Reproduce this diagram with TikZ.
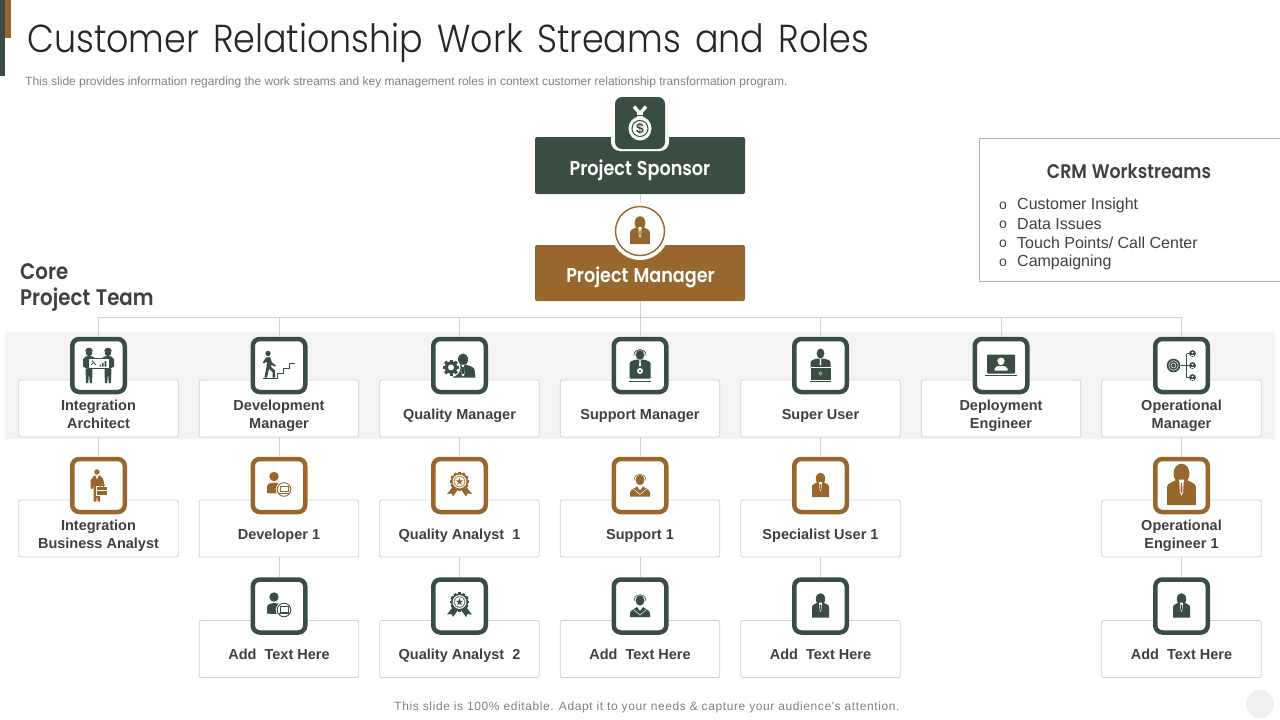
\documentclass[tikz,border=0pt]{standalone}
\usepackage{fontspec}
\setmainfont{Liberation Sans}
\newfontfamily\titlef{Poppins Light}[FakeStretch=0.895,WordSpace=1.5]
\newfontfamily\headf{Poppins SemiBold}[FakeStretch=0.88,WordSpace=1.2]
\newfontfamily\footf{Liberation Sans}[LetterSpace=5]
\definecolor{dkg}{HTML}{3A4D43}
\definecolor{brn}{HTML}{98672D}
\definecolor{txt}{HTML}{404040}
\definecolor{lin}{HTML}{D2D2D2}
\colorlet{ic}{dkg}
\tikzset{
 conn/.style={draw=lin,line width=0.9pt},
 rolebox/.style={draw=lin,fill=white,line width=0.9pt,rounded corners=2pt,minimum width=159.5pt,minimum height=57pt,inner sep=0pt},
 rolelabel/.style={font=\fontsize{14.5}{18}\selectfont\bfseries,text=txt,align=center,inner sep=0pt},
 iconframe/.style={fill=white,line width=4.5pt,rounded corners=7pt,minimum width=52.5pt,minimum height=53pt,inner sep=0pt},
 topbox/.style={rounded corners=2pt,minimum width=210pt,inner sep=0pt,text=white,font=\fontsize{20}{24}\selectfont\headf},
 crmtext/.style={anchor=west,inner sep=0pt,text=txt,font=\fontsize{16}{19}\selectfont},
 crmbullet/.style={anchor=west,inner sep=0pt,text=txt,font=\fontsize{14}{16}\selectfont},
 ic-suit/.pic={
  \fill[ic] (0,-7) ellipse (4.7 and 5.8);
  \fill[ic] (-8.5,11.5) -- (-8.5,1) .. controls (-8.5,-1.5) and (-5,-2) .. (-2.8,-3.4) -- (2.8,-3.4) .. controls (5,-2) and (8.5,-1.5) .. (8.5,1) -- (8.5,11.5) -- cycle;
  \fill[white] (-1.4,-3.4) -- (1.4,-3.4) -- (0.9,4) -- (0,6) -- (-0.9,4) -- cycle;
  \fill[ic] (-0.4,-1.5) -- (0.4,-1.5) -- (0.5,3.6) -- (0,4.6) -- (-0.5,3.6) -- cycle;
 },
 ic-head/.pic={
  \fill[ic] (0,-5.5) ellipse (4.4 and 5.2);
  \draw[ic,line width=0.6pt] (-6,-5) .. controls (-6.2,-13.5) and (6.2,-13.5) .. (6,-5);
  \fill[ic] (-10,11) -- (-10,7) .. controls (-9,3.5) and (-5,3) .. (-3,1) -- (0,5) -- (3,1) .. controls (5,3) and (9,3.5) .. (10,7) -- (10,11) -- cycle;
  \draw[white,line width=0.5pt] (-6.5,3.5) -- (0,9) -- (6.5,3.5);
 },
 ic-ribbon/.pic={
  \fill[ic] (-6.5,1) -- (-12.5,8.5) -- (-8,8) -- (-6.5,11) -- (-1.5,4) -- cycle;
  \fill[ic] (6.5,1) -- (12.5,8.5) -- (8,8) -- (6.5,11) -- (1.5,4) -- cycle;
  \foreach \a in {0,30,...,330} {\fill[ic,rotate around={\a:(0,-4)}] (-1.4,-13.6) rectangle (1.4,-4);}
  \fill[ic] (0,-4) circle (8.6);
  \fill[white] (0,-4) circle (6.9);
  \fill[ic,opacity=.75] (0,-4) circle (5.8);
  \fill[white] (0,-4) circle (4.9);
  \fill[ic,shift={(0,-4)}] (0,-3.9) -- (0.9,-1.25) -- (3.7,-1.2) -- (1.45,0.5) -- (2.3,3.2) -- (0,1.6) -- (-2.3,3.2) -- (-1.45,0.5) -- (-3.7,-1.2) -- (-0.9,-1.25) -- cycle;
 },
 ic-workers/.pic={
  \foreach \s in {-1,1} {
   \fill[ic] (\s*9.5,-12.5) circle (3.2);
   \fill[ic] (\s*5.5,-14.2) .. controls (\s*6,-19) and (\s*13,-19) .. (\s*13.5,-14.2) -- cycle;
   \fill[ic] (\s*15.5,1) -- (\s*15.5,-6) .. controls (\s*15,-9) and (\s*12,-9.5) .. (\s*9.5,-9.5) .. controls (\s*7,-9.5) and (\s*5,-9) .. (\s*3,-7) -- (\s*3,3) -- (\s*12,3) -- cycle;
   \fill[ic] (\s*13,3) -- (\s*12.4,17.5) -- (\s*10.2,17.5) -- (\s*9.6,8) -- (\s*8.6,17.5) -- (\s*6.4,17.5) -- (\s*6,3) -- cycle;
  }
  \draw[ic,fill=white,line width=0.9pt] (-10.5,-7) rectangle (10.5,2.5);
  \draw[ic,line width=0.8pt] (-6.5,-5) -- (-2.5,-0.5) (-7,-1) -- (-5.5,-2.5);
  \fill[ic] (1,-1) rectangle (2.6,1) (3.6,-2.5) rectangle (5.2,1) (6.2,-4.5) rectangle (7.8,1);
 },
 ic-stairs/.pic={
  \draw[ic,line width=1pt] (-16,13) -- (-2,13) -- (-2,8) -- (4,8) -- (4,3) -- (10,3) -- (10,-2) -- (16,-2);
  \fill[ic] (-11,-12) circle (2.7);
  \fill[ic] (-13,-8) -- (-9,-8.5) -- (-7,-3) -- (-3,0) -- (-4,1.2) -- (-8,-1) -- (-7.5,2) -- (-4,5) -- (-4,12) -- (-6.5,12) -- (-6.5,6.5) -- (-10,3.5) -- (-12,12) -- (-14.5,12) -- (-12.5,1) -- (-12,-4) -- (-15.5,-2) -- (-16,-3.5) -- cycle;
 },
 ic-qm/.pic={
  \fill[ic] (3.5,-6) ellipse (5 and 6);
  \fill[ic] (-7,12) -- (-4,3) .. controls (-3,1) and (-1,0) .. (1,-1) -- (6,-1) .. controls (9,0) and (14,1) .. (15,4) -- (16,12) -- cycle;
  \fill[white] (2,-1) -- (5,-1) -- (4.4,1) -- (5,9) -- (3.5,11) -- (2,9) -- (2.6,1) -- cycle;
  \fill[ic] (2.9,1.5) rectangle (4.1,8.5);
  \fill[white] (-8.5,2) circle (9.5);
  \foreach \a in {0,45,...,315} {\fill[ic,rotate around={\a:(-8.5,2)}] (-10,-6) rectangle (-7,10);}
  \fill[ic] (-8.5,2) circle (6.2);
  \fill[white] (-8.5,2) circle (3);
 },
 ic-support/.pic={
  \fill[ic] (0,-10.5) ellipse (4.4 and 4.8);
  \draw[ic,line width=0.7pt] (-6,-10) .. controls (-6.2,-18) and (6.2,-18) .. (6,-10);
  \fill[ic] (-10.5,13) -- (-10.5,-2) .. controls (-10,-5) and (-6,-5) .. (-3,-6) -- (3,-6) .. controls (6,-5) and (10,-5) .. (10.5,-2) -- (10.5,13) -- cycle;
  \fill[white] (-1.1,-6) -- (1.1,-6) -- (0.6,-4.5) -- (1,0) -- (0,1.3) -- (-1,0) -- (-0.6,-4.5) -- cycle;
  \fill[white] (0,5.5) circle (3);
  \fill[ic] (0,5.5) circle (1.2);
  \draw[ic,line width=0.9pt] (-11,16) -- (11,16);
 },
 ic-super/.pic={
  \fill[ic] (0,-12) ellipse (3.9 and 5);
  \fill[ic] (-10,3) -- (-10,-3) .. controls (-9.5,-6) and (-6,-6) .. (-3,-7) -- (3,-7) .. controls (6,-6) and (9.5,-6) .. (10,-3) -- (10,3) -- cycle;
  \fill[white] (-1,-7) -- (1,-7) -- (0.5,-5.5) -- (0.9,-1) -- (0,0) -- (-0.9,-1) -- (-0.5,-5.5) -- cycle;
  \fill[ic] (-10,2) rectangle (10,14);
  \draw[white,line width=0.5pt] (-10,1.8) -- (10,1.8);
  \draw[white,line width=0.4pt] (0,8) circle (1.6);
  \draw[ic,line width=0.9pt] (-10.5,16) -- (10.5,16);
 },
 ic-deploy/.pic={
  \fill[ic,rounded corners=0.8pt] (-14,-11) rectangle (14,8);
  \draw[ic,line width=1.6pt] (-16,10) -- (16,10);
  \fill[white] (0,-3.5) circle (3.2);
  \fill[white] (-4,-4.2) -- (4,-4.2) .. controls (3.5,-9) and (-3.5,-9) .. (-4,-4.2) -- cycle;
  \fill[white] (-6.5,5) -- (-6.5,3) .. controls (-6,0.5) and (-3,0.5) .. (0,0.5) .. controls (3,0.5) and (6,0.5) .. (6.5,3) -- (6.5,5) -- cycle;
 },
 ic-opm/.pic={
  \fill[ic] (-8,0) circle (6.8);
  \draw[white,line width=0.5pt] (-8,0) circle (4.8);
  \draw[white,line width=0.5pt] (-8,0) circle (2.4);
  \draw[ic,line width=0.7pt] (-1,0) -- (8,0) (5,-12) -- (5,12) (5,-12) -- (8,-12) (5,12) -- (8,12);
  \foreach \y in {-12,0,12} {
   \fill[ic] (11,\y) circle (3.4);
   \fill[white] (11,\y-0.8) circle (1);
   \draw[white,line width=0.4pt] (9.3,\y+1.8) -- (12.7,\y+1.8);
  }
 },
 ic-analyst/.pic={
  \fill[ic] (-1.5,-13.5) circle (2.7);
  \fill[ic] (-4.5,-9.8) -- (1.5,-9.8) -- (4.5,-7) -- (6.5,1.5) -- (4,1.5) -- (2.5,-3) -- (2.5,1.5) -- (-1.5,1.5) -- (-1.5,9) -- (1.5,9) -- (1.5,16) -- (-0.8,16) -- (-1.5,9.5) -- (-2.2,16) -- (-5,16) -- (-5,0) -- (-6,3.5) -- (-8,3) -- (-8,-5) -- cycle;
  \fill[white] (-3,-9.8) -- (0,-9.8) -- (-1.5,-6) -- cycle;
  \draw[white,fill=ic,line width=0.6pt] (-2.2,1.2) rectangle (9,9.5);
  \draw[ic,line width=0.7pt] (1.5,1) -- (1.5,-0.4) -- (5,-0.4) -- (5,1);
  \draw[white,line width=0.4pt] (-2,4.5) -- (9,4.5);
 },
 ic-dev/.pic={
  \fill[ic] (-5,-9) circle (4.7);
  \fill[ic] (-12,7.5) -- (-12,1.5) .. controls (-12,-2) and (-8,-3) .. (-5,-3) .. controls (-2,-3) and (2,-2) .. (3,0) -- (3,7.5) .. controls (-2,8) and (-8,8) .. (-12,7.5) -- cycle;
  \fill[white] (5,4) circle (8.2);
  \draw[ic,line width=0.9pt] (5,4) circle (6.8);
  \draw[ic,line width=0.9pt] (1,0.8) rectangle (9,6.2);
  \draw[ic,line width=0.9pt] (0,7.8) -- (10,7.8);
 },
}
\newcommand{\role}[7]{%
 \node[rolebox] (#1) at (#2,#3) {};
 \pgfmathsetmacro\rLy{#3+7.2}
 \pgfmathsetmacro\rIy{#3-43}
 \node[rolelabel] (#1-t) at (#2,\rLy) {\strut #4\strut};
 \node[iconframe,draw=#6] (#1-i) at (#2,\rIy) {};
 \begin{scope}
  \colorlet{ic}{#6}
  \pic[scale=#7] at (#2,\rIy) {#5};
 \end{scope}
}
\begin{document}
\begin{tikzpicture}[x=1pt,y=-1pt]
\useasboundingbox (0,0) rectangle (1280,720);
% accents
\fill[dkg] (0,0) rectangle (5,76);
\fill[brn] (5,0) rectangle (11,38);
% heading
\node[anchor=west,inner sep=0pt,text=black!85,font=\fontsize{39}{42}\selectfont\titlef] (title) at (27,43) {Customer Relationship Work Streams and Roles};
\node[anchor=west,inner sep=0pt,text=black!50,font=\fontsize{12}{14}\selectfont] (sub) at (25,82.3) {This slide provides information regarding the work streams and key management roles in context customer relationship transformation program.};
% band
\fill[black!4.5] (5,332) rectangle (1275,439);
% top boxes
\node[topbox,fill=dkg,minimum height=57pt] (ps) at (640,165.5) {};
\node[inner sep=0pt,text=white,font=\fontsize{20}{24}\selectfont\headf] (pst) at (640,170) {Project Sponsor};
\node[topbox,fill=brn,minimum height=56pt] (pm) at (640,273) {};
\node[inner sep=0pt,text=white,font=\fontsize{20}{24}\selectfont\headf] (pmt) at (640.5,277) {Project Manager};
\coordinate (hub) at (640,317.8);
% sponsor icon
\node[fill=white,rounded corners=9pt,minimum width=58pt,minimum height=56pt,inner sep=0pt] (psrim) at (640,123) {};
\node[fill=dkg,rounded corners=7pt,minimum width=50pt,minimum height=52pt,inner sep=0pt] (psic) at (640,123) {};
\fill[white] (640,128.5) ellipse (11.5 and 12);
\draw[white,line width=3.4pt] (634,106.5) -- (640,113.5) -- (646,106.5);
\fill[white] (637,112) rectangle (643,118);
\draw[dkg,line width=1pt] (640,128.5) circle (8);
\draw[dkg,line width=0.8pt] (634.5,115.5) -- (645.5,115.5);
\node[inner sep=0pt,text=dkg,font=\fontsize{14}{14}\selectfont\bfseries] (dollar) at (640,128.5) {\$};
% manager icon
\node[circle,fill=white,minimum size=58pt,inner sep=0pt] (pmrim) at (640,231) {};
\node[circle,draw=brn,fill=white,line width=1.4pt,minimum size=49pt,inner sep=0pt] (pmic) at (640,231) {};
\begin{scope}\colorlet{ic}{brn}\pic[scale=1.15] at (640,231) {ic-suit};\end{scope}
\draw[conn] (ps.south) -- (pmrim.north);
% core label
\node[anchor=west,inner sep=0pt,text=txt,font=\fontsize{22.5}{26}\selectfont\headf,align=left] (core) at (20,288) {Core\\Project Team};
% CRM box
\draw[draw=black!30,line width=0.9pt] (1281,138.5) -- (979.5,138.5) -- (979.5,281.5) -- (1281,281.5);
\node[inner sep=0pt,text=txt,font=\fontsize{19.7}{22}\selectfont\headf] (crm) at (1129,171) {CRM Workstreams};
\node[crmbullet] (ba) at (999,205.5) {o};
\node[crmbullet] (bb) at (999,224.5) {o};
\node[crmbullet] (bc) at (999,243.5) {o};
\node[crmbullet] (bd) at (999,262.5) {o};
\node[crmtext] (ta) at (1017,205) {Customer Insight};
\node[crmtext] (tb) at (1017,224) {Data Issues};
\node[crmtext] (tc) at (1017,243) {Touch Points/ Call Center};
\node[crmtext] (td) at (1017,262) {Campaigning};
% roles
\role{a1}{98.5}{408.5}{Integration\\Architect}{ic-workers}{dkg}{1}
\role{b1}{279}{408.5}{Development\\Manager}{ic-stairs}{dkg}{1}
\role{c1}{459.5}{408.5}{Quality Manager}{ic-qm}{dkg}{1}
\role{d1}{640}{408.5}{Support Manager}{ic-support}{dkg}{1}
\role{e1}{820.5}{408.5}{Super User}{ic-super}{dkg}{1}
\role{f1}{1001}{408.5}{Deployment\\Engineer}{ic-deploy}{dkg}{1}
\role{g1}{1181.5}{408.5}{Operational\\Manager}{ic-opm}{dkg}{1}
\role{a2}{98.5}{528.5}{Integration\\Business Analyst}{ic-analyst}{brn}{1}
\role{b2}{279}{528.5}{Developer 1}{ic-dev}{brn}{1}
\role{c2}{459.5}{528.5}{Quality Analyst\ \ 1}{ic-ribbon}{brn}{1}
\role{d2}{640}{528.5}{Support 1}{ic-head}{brn}{1}
\role{e2}{820.5}{528.5}{Specialist User 1}{ic-suit}{brn}{1}
\role{g2}{1181.5}{528.5}{Operational\\Engineer 1}{ic-suit}{brn}{1.7}
\role{b3}{279}{649}{Add\ \ Text Here}{ic-dev}{dkg}{1}
\role{c3}{459.5}{649}{Quality Analyst\ \ 2}{ic-ribbon}{dkg}{1}
\role{d3}{640}{649}{Add\ \ Text Here}{ic-head}{dkg}{1}
\role{e3}{820.5}{649}{Add\ \ Text Here}{ic-suit}{dkg}{1}
\role{g3}{1181.5}{649}{Add\ \ Text Here}{ic-suit}{dkg}{1}
% connectors
\draw[conn] (pm.south) -- (hub);
\foreach \n in {a,b,c,d,e,f,g} {\draw[conn] (hub) -| (\n1-i.north);}
\foreach \n in {a,b,c,d,e,g} {\draw[conn] (\n1.south) -- (\n2-i.north);}
\foreach \n in {b,c,d,e,g} {\draw[conn] (\n2.south) -- (\n3-i.north);}
% footer
\node[inner sep=0pt,text=black!50,font=\fontsize{12}{14}\selectfont\footf] (foot) at (647,707.3) {This slide is 100\% editable. Adapt it to your needs \& capture your audience's attention.};
\fill[black!6] (1260,704) circle (14);
\end{tikzpicture}
\end{document}
